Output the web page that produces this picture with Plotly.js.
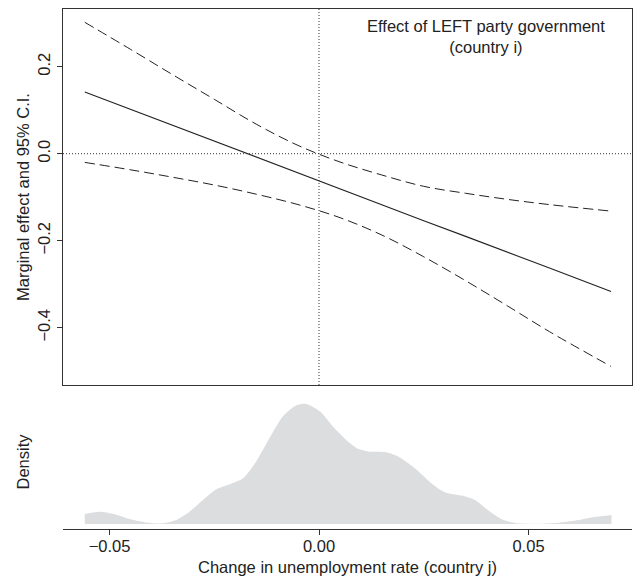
<!DOCTYPE html>
<html>
<head>
<meta charset="utf-8">
<script src="https://cdn.plot.ly/plotly-3.0.1.min.js"></script>
<style>html,body{margin:0;padding:0;background:#fff;}</style>
</head>
<body>
<div id="chart" style="width:633px;height:580px;"></div>
<script>
// Change in unemployment rate (country j) -- x positions of the estimate
const xGrid = [-0.0559, -0.045, -0.035, -0.025, -0.015, -0.005, 0.005, 0.015, 0.025, 0.035, 0.045, 0.055, 0.0697];
// Marginal effect of LEFT party government
const effect = [0.142, 0.102, 0.066, 0.029, -0.008, -0.045, -0.082, -0.118, -0.154, -0.190, -0.226, -0.263, -0.317];
// 95% confidence interval
const ciUpper = [0.302, 0.240, 0.182, 0.125, 0.068, 0.019, -0.019, -0.049, -0.075, -0.091, -0.105, -0.117, -0.132];
const ciLower = [-0.020, -0.037, -0.054, -0.072, -0.093, -0.117, -0.147, -0.187, -0.237, -0.292, -0.350, -0.409, -0.489];

// Density of the moderator
const densX = [-0.0559, -0.0523, -0.0492, -0.0452, -0.0404, -0.0372, -0.0341, -0.0309, -0.0277, -0.0245, -0.0213, -0.0181, -0.0150, -0.0118, -0.0086, -0.0054, -0.0030, 0.0002, 0.0033, 0.0069, 0.0093, 0.0117, 0.0157, 0.0189, 0.0228, 0.0268, 0.0300, 0.0340, 0.0372, 0.0403, 0.0435, 0.0467, 0.0515, 0.0563, 0.0610, 0.0658, 0.0698];
const densY = [2.33, 2.87, 2.40, 1.17, 0.23, 0.16, 0.93, 2.87, 5.6, 8.1, 9.26, 10.66, 14.54, 20.0, 25.04, 27.6, 27.93, 26.2, 22.7, 19.2, 17.5, 16.87, 16.73, 15.7, 13.0, 9.5, 7.4, 6.6, 5.6, 3.27, 1.17, 0.23, 0.03, 0.23, 0.77, 1.63, 2.1];

// Ticks
const yTickVals = [-0.4, -0.2, 0.0, 0.2];
const yTickText = ['\u22120.4', '\u22120.2', '0.0', '0.2'];
const xTickVals = [-0.05, 0.0, 0.05];
const xTickText = ['\u22120.05', '0.00', '0.05'];

const FONT = '"Liberation Sans", Arial, Helvetica, sans-serif';
const INK = '#222222';
const FS = 16.5;

const traces = [
  {x: densX, y: densY, xaxis: 'x2', yaxis: 'y2', type: 'scatter', mode: 'lines',
   line: {width: 0, shape: 'spline', smoothing: 0.7, color: '#dcdddf'}, fill: 'tozeroy', fillcolor: '#dcdddf',
   hoverinfo: 'skip', showlegend: false},
  {x: xGrid, y: ciUpper, type: 'scatter', mode: 'lines', line: {color: INK, width: 1, dash: '10px,5px', shape: 'spline'}, showlegend: false},
  {x: xGrid, y: ciLower, type: 'scatter', mode: 'lines', line: {color: INK, width: 1, dash: '10px,5px', shape: 'spline'}, showlegend: false},
  {x: xGrid, y: effect, type: 'scatter', mode: 'lines', line: {color: INK, width: 1.1}, showlegend: false}
];

const xRange = [-0.0611, 0.0747];

const layout = {
  width: 633, height: 580,
  margin: {l: 63, r: 1, t: 9, b: 51},
  paper_bgcolor: '#ffffff', plot_bgcolor: '#ffffff',
  font: {family: FONT, size: FS, color: INK},
  showlegend: false,
  xaxis: {domain: [0, 1], anchor: 'y', range: xRange, showline: true, mirror: true, linecolor: '#333', linewidth: 1,
          ticks: '', showticklabels: false, showgrid: false, zeroline: false},
  yaxis: {domain: [0.2769, 1], anchor: 'x', range: [-0.5317, 0.3326], showline: true, mirror: true, linecolor: '#333', linewidth: 1,
          tickvals: yTickVals, ticktext: yTickText, tickangle: -90, ticks: 'outside', ticklen: 5, tickcolor: '#333',
          showgrid: false, zeroline: false, tickfont: {size: FS, color: INK},
          title: {text: 'Marginal effect and 95% C.I.', font: {size: FS, color: INK}, standoff: 1}},
  xaxis2: {domain: [0, 1], anchor: 'y2', range: xRange, showline: true, linecolor: '#333', linewidth: 1,
           tickvals: xTickVals, ticktext: xTickText, ticks: 'outside', ticklen: 5, tickcolor: '#333',
           ticklabelstandoff: -3,
           showgrid: false, zeroline: false, tickfont: {size: FS, color: INK},
           title: {text: 'Change in unemployment rate (country j)', font: {size: FS, color: INK}, standoff: 7}},
  yaxis2: {domain: [0, 0.2577], anchor: 'x2', range: [-1.17, 30], showline: false, ticks: '', showticklabels: false,
           showgrid: false, zeroline: false,
           title: {text: 'Density', font: {size: FS, color: INK}, standoff: 28}},
  shapes: [
    {type: 'line', xref: 'x', yref: 'y domain', x0: 0, x1: 0, y0: 0, y1: 1, line: {color: '#333', width: 1, dash: '1px,2px'}},
    {type: 'line', xref: 'x domain', yref: 'y', x0: 0, x1: 1, y0: 0, y1: 0, line: {color: '#333', width: 1, dash: '1px,2px'}}
  ],
  annotations: [
    {text: 'Effect of LEFT party government<br>(country i)', xref: 'x', yref: 'y domain', x: 0.0399, y: 1,
     xanchor: 'center', yanchor: 'top', yshift: -6, showarrow: false, align: 'center',
     font: {family: FONT, size: FS, color: INK}}
  ]
};

Plotly.newPlot('chart', traces, layout, {staticPlot: true, displayModeBar: false});
</script>
</body>
</html>
